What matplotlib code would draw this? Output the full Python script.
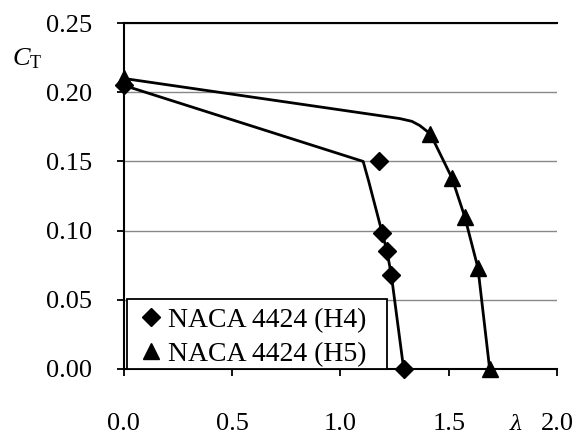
import matplotlib
matplotlib.use('Agg')
import matplotlib.pyplot as plt
from matplotlib.patches import Rectangle

# markers (measured points)
h4_x = [0.0, 1.18, 1.193, 1.215, 1.235, 1.292]
h4_y = [0.205, 0.150, 0.098, 0.085, 0.068, 0.0]
h5_x = [0.0, 1.415, 1.515, 1.574, 1.635, 1.689]
h5_y = [0.210, 0.170, 0.138, 0.110, 0.073, 0.0]

# trend lines
h4_line_x = [0.0, 1.105, 1.13, 1.16, 1.19, 1.215, 1.235, 1.292]
h4_line_y = [0.205, 0.150, 0.136, 0.118, 0.100, 0.085, 0.068, 0.0]
h5_line_x = [0.0, 1.166, 1.274, 1.33, 1.366, 1.415, 1.515, 1.574, 1.635, 1.689]
h5_line_y = [0.210, 0.1835, 0.181, 0.179, 0.176, 0.170, 0.138, 0.110, 0.073, 0.0]

xticks = [0.0, 0.5, 1.0, 1.5, 2.0]
yticks = [0.0, 0.05, 0.10, 0.15, 0.20, 0.25]

plt.rcParams['font.family'] = ['Liberation Serif', 'DejaVu Serif']

fig = plt.figure(figsize=(5.76, 4.37), dpi=100)
ax = fig.add_axes([0.215, 0.156, 0.752, 0.791])

ax.plot(h4_line_x, h4_line_y, color='black', lw=2.0, zorder=3)
ax.plot(h5_line_x, h5_line_y, color='black', lw=2.0, zorder=3)
ax.plot(h4_x, h4_y, 'D', color='black', ms=9, ls='none', clip_on=False,
        zorder=4, label='NACA 4424 (H4)')
ax.plot(h5_x, h5_y, '^', color='black', ms=11.5, ls='none', clip_on=False,
        zorder=4, label='NACA 4424 (H5)')

ax.set_xlim(0, 2.0)
ax.set_ylim(0, 0.25)
ax.set_xticks(xticks)
ax.set_xticklabels([f'{v:.1f}' for v in xticks])
ax.set_yticks(yticks)
ax.set_yticklabels([f'{v:.2f}' for v in yticks])
ax.tick_params(labelsize=19, length=5, width=1.3, color='black', direction='out')
ax.tick_params(axis='x', pad=27)
ax.tick_params(axis='y', pad=18)
ax.yaxis.grid(True, color='#888888', lw=1.0)
ax.set_axisbelow(True)

ax.spines['right'].set_visible(False)
ax.spines['top'].set_linewidth(1.5)
ax.spines['left'].set_linewidth(1.5)
ax.spines['bottom'].set_linewidth(1.5)

# axis titles
fig.text(13 / 576, 1 - 59 / 437, 'C', fontsize=19, fontstyle='italic', va='center')
fig.text(30 / 576, 1 - 63 / 437, 'T', fontsize=13, va='center')
fig.text(516 / 576, 1 - 424 / 437, 'λ', fontsize=15, fontstyle='italic', ha='center',
         va='center', family=['DejaVu Serif'])

# legend box drawn by hand (Excel-like padding)
ax.add_patch(Rectangle((0.007, 0.0), 0.6, 0.202, transform=ax.transAxes,
                       facecolor='white', edgecolor='black', lw=1.3, zorder=5))
leg = ax.legend(loc='lower left', bbox_to_anchor=(0.031, 0.006), fontsize=20,
                frameon=False, handlelength=1.0, handletextpad=0.1,
                borderpad=0.0, labelspacing=0.3, borderaxespad=0.0)
leg.set_zorder(6)

plt.savefig('out.png', dpi=100)
